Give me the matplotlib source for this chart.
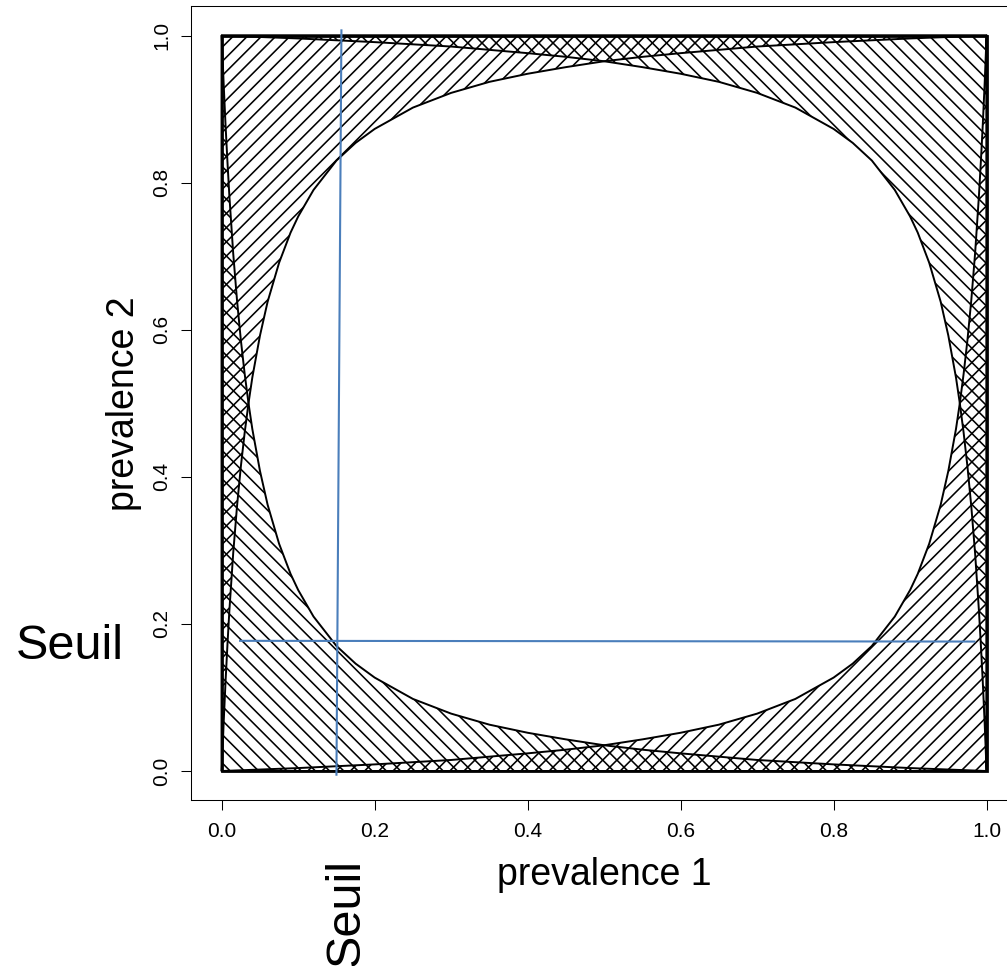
import matplotlib
matplotlib.use('Agg')
import matplotlib.pyplot as plt
from matplotlib.patches import Polygon, Rectangle
from matplotlib.collections import LineCollection
from matplotlib.transforms import IdentityTransform

plt.rcParams['font.family'] = ['Liberation Sans', 'DejaVu Sans']

# boundary curves (prevalence 1, prevalence 2)
ul_x = [0.0, 0.0025, 0.005, 0.0075, 0.01, 0.015, 0.02, 0.025, 0.03, 0.035, 0.04,
        0.05, 0.06, 0.075, 0.09, 0.10, 0.12, 0.15, 0.175, 0.20, 0.25, 0.30,
        0.35, 0.40, 0.45, 0.50, 0.55, 0.60, 0.70, 0.80, 0.90, 1.0]
ul_y = [0.0, 0.065, 0.122, 0.172, 0.218, 0.296, 0.360, 0.414, 0.460, 0.500, 0.535,
        0.592, 0.638, 0.691, 0.732, 0.754, 0.790, 0.830, 0.854, 0.873, 0.902, 0.922,
        0.937, 0.948, 0.957, 0.965, 0.971, 0.976, 0.985, 0.991, 0.996, 1.0]

ur_x = [1.0, 0.9975, 0.995, 0.9925, 0.99, 0.985, 0.98, 0.975, 0.97, 0.965, 0.96,
        0.95, 0.94, 0.925, 0.91, 0.90, 0.88, 0.85, 0.825, 0.80, 0.75, 0.70,
        0.65, 0.60, 0.55, 0.50, 0.45, 0.40, 0.30, 0.20, 0.10, 0.0]
ur_y = [0.0, 0.065, 0.122, 0.172, 0.218, 0.296, 0.360, 0.414, 0.460, 0.500, 0.535,
        0.592, 0.638, 0.691, 0.732, 0.754, 0.790, 0.830, 0.854, 0.873, 0.902, 0.922,
        0.937, 0.948, 0.957, 0.965, 0.971, 0.976, 0.985, 0.991, 0.996, 1.0]

ll_x = [0.0, 0.0025, 0.005, 0.0075, 0.01, 0.015, 0.02, 0.025, 0.03, 0.035, 0.04,
        0.05, 0.06, 0.075, 0.09, 0.10, 0.12, 0.15, 0.175, 0.20, 0.25, 0.30,
        0.35, 0.40, 0.45, 0.50, 0.55, 0.60, 0.70, 0.80, 0.90, 1.0]
ll_y = [1.0, 0.935, 0.878, 0.828, 0.782, 0.704, 0.640, 0.586, 0.540, 0.500, 0.465,
        0.408, 0.362, 0.309, 0.268, 0.246, 0.210, 0.170, 0.146, 0.127, 0.098, 0.078,
        0.063, 0.052, 0.043, 0.035, 0.029, 0.024, 0.015, 0.009, 0.004, 0.0]

lr_x = [1.0, 0.9975, 0.995, 0.9925, 0.99, 0.985, 0.98, 0.975, 0.97, 0.965, 0.96,
        0.95, 0.94, 0.925, 0.91, 0.90, 0.88, 0.85, 0.825, 0.80, 0.75, 0.70,
        0.65, 0.60, 0.55, 0.50, 0.45, 0.40, 0.30, 0.20, 0.10, 0.0]
lr_y = [1.0, 0.935, 0.878, 0.828, 0.782, 0.704, 0.640, 0.586, 0.540, 0.500, 0.465,
        0.408, 0.362, 0.309, 0.268, 0.246, 0.210, 0.170, 0.146, 0.127, 0.098, 0.078,
        0.063, 0.052, 0.043, 0.035, 0.029, 0.024, 0.015, 0.009, 0.004, 0.0]

# threshold lines ("Seuil")
seuil_v_x = [0.150, 0.1565]
seuil_v_y = [-0.005, 1.007]
seuil_h_x = [0.024, 0.984]
seuil_h_y = [0.177, 0.176]

ticks = [0.0, 0.2, 0.4, 0.6, 0.8, 1.0]
tick_labels = ['0.0', '0.2', '0.4', '0.6', '0.8', '1.0']

W, H = 1007, 966
STEP = 14.2  # hatch spacing in pixels


def hatch(ax, poly, slope):
    segs = []
    c = -2.0 * H
    while c < W + 2 * H:
        if slope > 0:
            segs.append([(c, 0), (c + 2 * H, 2 * H)])
        else:
            segs.append([(c, 0), (c - 2 * H, 2 * H)])
        c += STEP
    lc = LineCollection(segs, colors='black', linewidths=1.15,
                        transform=IdentityTransform())
    ax.add_collection(lc, autolim=False)
    lc.set_clip_path(poly)


def region(ax, xs, ys, corner, slope):
    verts = list(zip(xs, ys)) + [corner]
    poly = Polygon(verts, closed=True, fill=False, edgecolor='black',
                   linewidth=1.4, joinstyle='round')
    ax.add_patch(poly)
    hatch(ax, poly, slope)


fig = plt.figure(figsize=(W / 100, H / 100), dpi=100)
ax = fig.add_axes([0.1898, 0.1714, 0.8203, 0.8223])
ax.set_xlim(-0.04, 1.04)
ax.set_ylim(-0.04, 1.04)

region(ax, ul_x, ul_y, (0, 1), 1)
region(ax, lr_x, lr_y, (1, 0), 1)
region(ax, ur_x, ur_y, (1, 1), -1)
region(ax, ll_x, ll_y, (0, 0), -1)

ax.add_patch(Rectangle((0, 0), 1, 1, fill=False, edgecolor='black', linewidth=2))

ax.plot(seuil_v_x, seuil_v_y, color='#4A7EBB', lw=1.5, clip_on=False)
ax.plot(seuil_h_x, seuil_h_y, color='#4A7EBB', lw=1.5, clip_on=False)

for s in ax.spines.values():
    s.set_linewidth(0.75)
    s.set_color('black')

ax.set_xticks(ticks, tick_labels)
ax.set_yticks(ticks, tick_labels)
ax.tick_params(direction='out', length=7.2, width=0.75, labelsize=15, colors='black')
ax.tick_params(axis='x', pad=8)
ax.tick_params(axis='y', pad=7, labelrotation=90)
plt.setp(ax.get_yticklabels(), va='center')

fig.text(604 / W, 1 - 885 / H, 'prevalence 1', fontsize=27, ha='center', va='baseline')
fig.text(134 / W, 1 - 403.5 / H, 'prevalence 2', fontsize=27, rotation=90,
         rotation_mode='anchor', ha='center', va='baseline')
fig.text(15.7 / W, 1 - 659 / H, 'Seuil', fontsize=35, ha='left', va='baseline')
fig.text(359 / W, 1 - 966.3 / H, 'Seuil', fontsize=35, rotation=90,
         rotation_mode='anchor', ha='left', va='baseline')

fig.savefig('out.png', dpi=100)
